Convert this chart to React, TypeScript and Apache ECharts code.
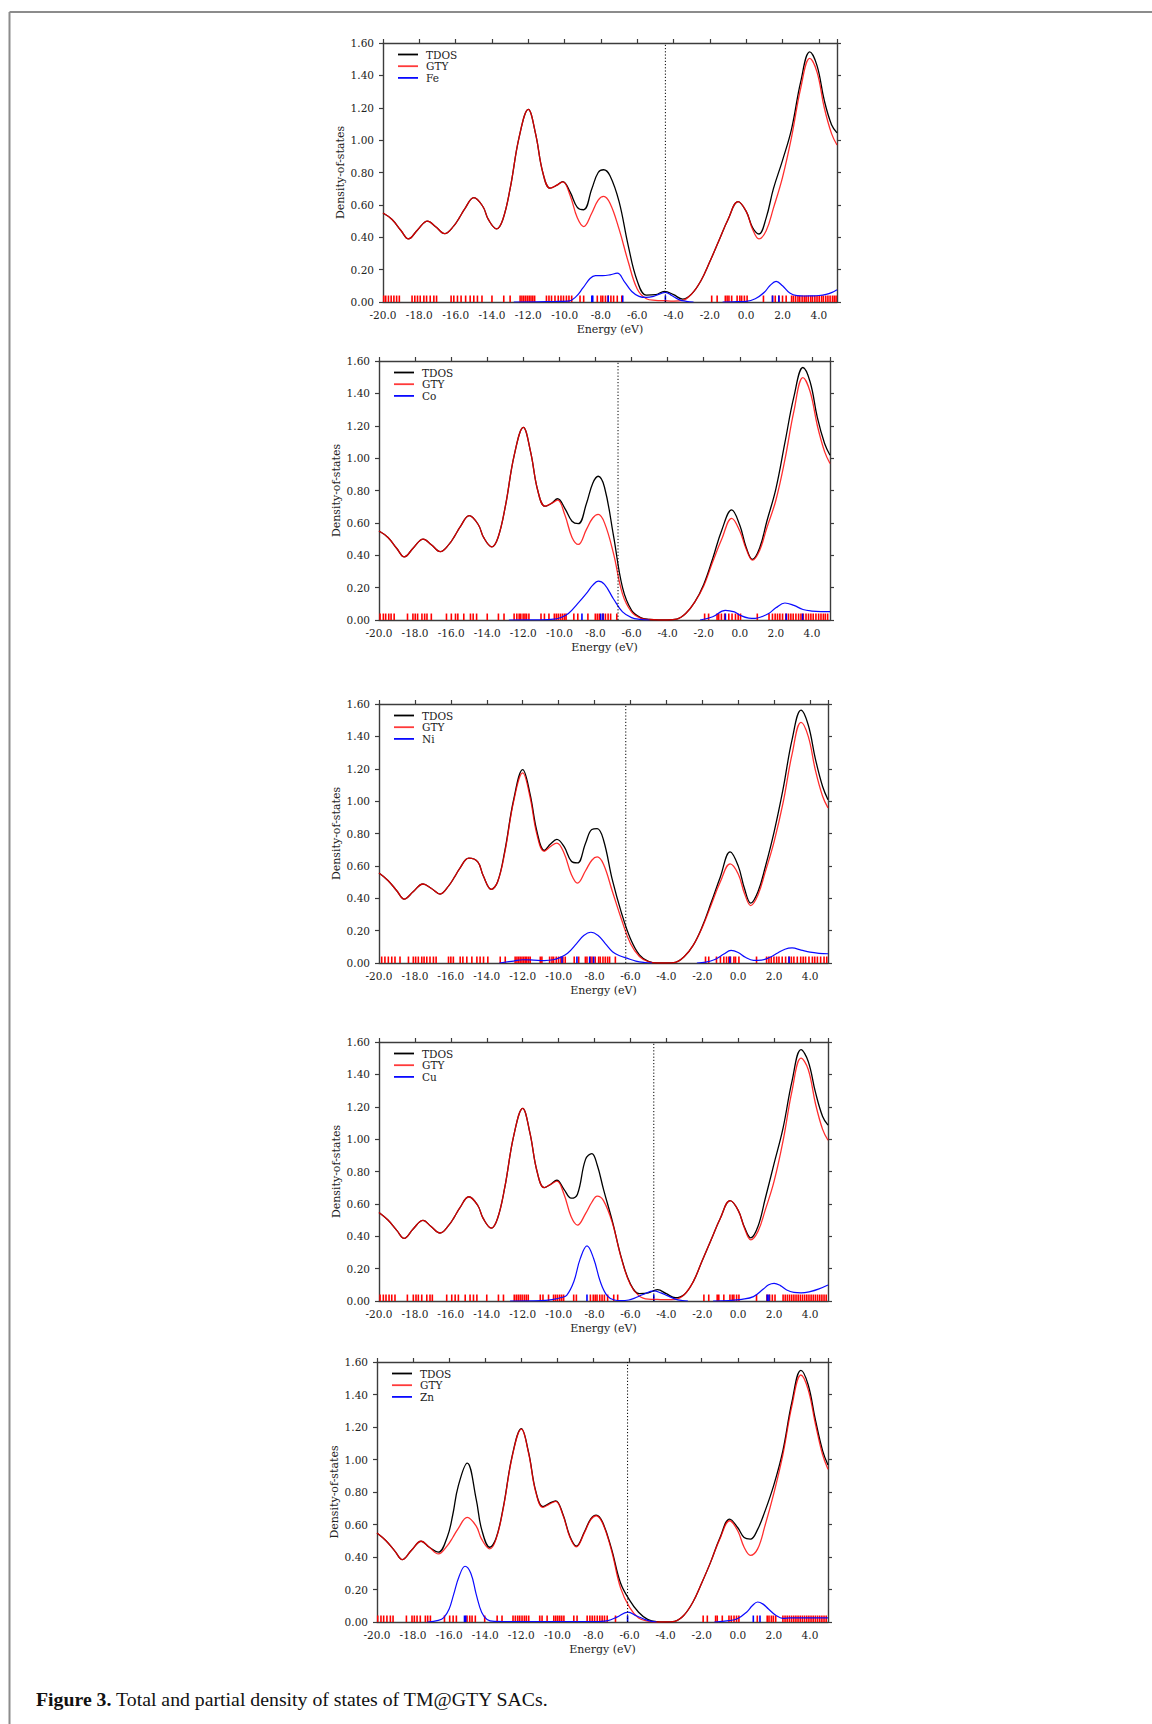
import { useEffect, useRef } from 'react';
import * as echarts from 'echarts';

// ---------------- data ----------------
const energyGrid = [-20, -19.5, -19, -18.6, -18.1, -17.55, -17.1, -16.6, -16.1, -15.8, -15.5, -15, -14.5, -14.2, -13.75, -13.4, -13, -12.5, -12, -11.6, -11.2, -10.8, -10.45, -10.1, -9.7, -9.3, -8.95, -8.5, -8.15, -7.85, -7.5, -7, -6.5, -6, -5.5, -5, -4.5, -4, -3.5, -3, -2.5, -2, -1.5, -1, -0.45, 0, 0.35, 0.7, 1.1, 1.5, 2, 2.5, 3, 3.5, 3.9, 4.3, 4.7, 5];

const metals = ['Fe', 'Co', 'Ni', 'Cu', 'Zn'];
const fermiLevels = [-4.45, -6.75, -6.26, -4.7, -6.11];

// Fe
const gtyFe = [0.55, 0.51, 0.44, 0.39, 0.445, 0.5, 0.465, 0.422, 0.47, 0.52, 0.575, 0.645, 0.59, 0.51, 0.452, 0.51, 0.7, 1.02, 1.19, 1.04, 0.8, 0.703, 0.72, 0.742, 0.66, 0.52, 0.466, 0.55, 0.63, 0.653, 0.61, 0.45, 0.25, 0.08, 0.02, 0.01, 0.008, 0.006, 0.01, 0.05, 0.13, 0.25, 0.38, 0.51, 0.62, 0.56, 0.45, 0.39, 0.44, 0.58, 0.77, 1.02, 1.32, 1.505, 1.42, 1.2, 1.04, 0.97];
const tdosFe = [0.55, 0.51, 0.44, 0.39, 0.445, 0.5, 0.465, 0.422, 0.47, 0.52, 0.575, 0.645, 0.59, 0.51, 0.452, 0.51, 0.7, 1.02, 1.19, 1.04, 0.8, 0.703, 0.72, 0.744, 0.68, 0.585, 0.57, 0.7, 0.8, 0.817, 0.78, 0.62, 0.35, 0.13, 0.042, 0.045, 0.066, 0.045, 0.018, 0.05, 0.13, 0.25, 0.38, 0.51, 0.62, 0.56, 0.46, 0.42, 0.52, 0.7, 0.875, 1.07, 1.36, 1.545, 1.46, 1.245, 1.095, 1.045];
const pdosFeE = [-12.8, -11, -10.3, -9.8, -9.4, -9.0, -8.6, -8.3, -7.9, -7.5, -7.1, -6.7, -6.3, -5.9, -5.5, -5.1, -4.75, -4.45, -4.1, -3.7, -3.3, -2.9, -2.0, -1.3, -0.5, 0, 0.5, 1.0, 1.3, 1.65, 2.0, 2.4, 2.8, 3.2, 3.6, 4.0, 4.4, 4.7, 5.0];
const pdosFe = [0, 0.002, 0.004, 0.005, 0.03, 0.085, 0.145, 0.163, 0.163, 0.168, 0.178, 0.125, 0.065, 0.035, 0.028, 0.035, 0.05, 0.06, 0.04, 0.015, 0.004, 0, null, 0, 0.002, 0.004, 0.02, 0.06, 0.1, 0.127, 0.1, 0.055, 0.039, 0.037, 0.038, 0.04, 0.047, 0.058, 0.076];
const levelsGtyFe = [-19.96, -19.85, -19.7, -19.55, -19.4, -19.25, -19.1, -18.4, -18.25, -18.1, -17.95, -17.75, -17.6, -17.4, -17.2, -17.05, -16.25, -16.1, -15.9, -15.7, -15.45, -15.2, -15.0, -14.8, -14.55, -14.0, -13.35, -13.0, -12.45, -12.35, -12.25, -12.15, -12.05, -11.95, -11.85, -11.75, -11.65, -11.0, -10.86, -10.72, -10.53, -10.35, -10.2, -10.06, -9.9, -9.76, -9.61, -9.15, -8.95, -8.2, -8.0, -7.9, -7.75, -7.6, -7.45, -7.3, -7.1, -6.85, -1.9, -1.6, -1.15, -1.05, -0.95, -0.8, -0.5, -0.35, -0.25, -0.1, 0.05, 0.95, 1.45, 1.6, 1.8, 2.0, 2.2, 2.5, 2.6, 2.72, 2.85, 2.95, 3.08, 3.2, 3.3, 3.42, 3.55, 3.65, 3.78, 3.9, 4.02, 4.15, 4.25, 4.38, 4.5, 4.62, 4.75, 4.85, 4.95];
const levelsTmFe = [-8.5, -8.45, -7.6, -6.8, -4.45, 1.45, 1.8];

// Co
const gtyCo = [0.55, 0.51, 0.44, 0.39, 0.445, 0.5, 0.465, 0.422, 0.47, 0.52, 0.575, 0.645, 0.59, 0.51, 0.452, 0.51, 0.7, 1.02, 1.19, 1.04, 0.8, 0.703, 0.72, 0.74, 0.65, 0.51, 0.467, 0.56, 0.63, 0.652, 0.6, 0.41, 0.16, 0.05, 0.012, 0.003, 0, 0, 0.005, 0.04, 0.11, 0.21, 0.36, 0.5, 0.628, 0.55, 0.44, 0.37, 0.43, 0.57, 0.74, 0.99, 1.29, 1.497, 1.41, 1.2, 1.04, 0.967];
const tdosCo = [0.55, 0.51, 0.44, 0.39, 0.445, 0.5, 0.465, 0.422, 0.47, 0.52, 0.575, 0.645, 0.59, 0.51, 0.452, 0.51, 0.7, 1.02, 1.19, 1.04, 0.8, 0.703, 0.72, 0.749, 0.69, 0.61, 0.595, 0.72, 0.845, 0.888, 0.82, 0.52, 0.2, 0.06, 0.015, 0.003, 0, 0, 0.005, 0.04, 0.11, 0.22, 0.38, 0.555, 0.68, 0.585, 0.45, 0.375, 0.445, 0.61, 0.81, 1.095, 1.38, 1.56, 1.47, 1.25, 1.09, 1.018];
const pdosCoE = [-12.8, -11, -10.3, -10.0, -9.5, -9.0, -8.5, -8.15, -7.85, -7.5, -7.0, -6.5, -6.0, -5.5, -5.0, -3.5, -2.2, -1.5, -0.8, -0.3, 0, 0.5, 0.85, 1.2, 1.6, 2.0, 2.5, 3.0, 3.5, 4.0, 4.5, 5.0];
const pdosCo = [0, 0.001, 0.005, 0.012, 0.04, 0.1, 0.165, 0.215, 0.24, 0.22, 0.13, 0.05, 0.015, 0.004, 0, null, 0, 0.02, 0.06, 0.05, 0.03, 0.012, 0.01, 0.02, 0.04, 0.075, 0.105, 0.09, 0.065, 0.055, 0.052, 0.052];
const levelsGtyCo = [-19.94, -19.76, -19.63, -19.46, -19.33, -19.16, -18.42, -18.12, -17.99, -17.86, -17.62, -17.47, -17.34, -17.1, -16.26, -15.99, -15.76, -15.63, -15.3, -14.93, -14.78, -14.59, -14.0, -13.38, -13.07, -12.51, -12.36, -12.23, -12.14, -12.01, -11.91, -11.82, -11.69, -11.02, -10.83, -10.58, -10.28, -10.17, -10.06, -9.94, -9.83, -9.72, -9.63, -9.2, -8.98, -8.42, -8.01, -7.9, -7.79, -7.59, -7.45, -7.3, -7.16, -6.82, -1.95, -1.73, -1.26, -1.17, -1.02, -0.84, -0.61, -0.43, -0.24, -0.09, 0.04, 0.97, 1.62, 1.81, 1.96, 2.09, 2.22, 2.37, 2.55, 2.7, 2.83, 2.96, 3.11, 3.26, 3.39, 3.52, 3.67, 3.81, 3.94, 4.07, 4.22, 4.37, 4.5, 4.63, 4.74, 4.87];
const levelsTmCo = [-8.75, -7.71, -7.58, -0.8, 2.58, 3.48];

// Ni
const gtyNi = [0.556, 0.51, 0.445, 0.395, 0.44, 0.488, 0.462, 0.426, 0.48, 0.53, 0.585, 0.648, 0.625, 0.54, 0.455, 0.5, 0.68, 1.0, 1.174, 1.03, 0.79, 0.69, 0.72, 0.741, 0.68, 0.55, 0.494, 0.57, 0.635, 0.655, 0.61, 0.44, 0.27, 0.12, 0.04, 0.008, 0, 0, 0.004, 0.04, 0.11, 0.22, 0.36, 0.5, 0.612, 0.55, 0.43, 0.355, 0.42, 0.56, 0.75, 0.99, 1.29, 1.487, 1.4, 1.19, 1.03, 0.958];
const tdosNi = [0.556, 0.51, 0.445, 0.395, 0.44, 0.488, 0.462, 0.426, 0.48, 0.53, 0.585, 0.648, 0.625, 0.54, 0.455, 0.5, 0.69, 1.01, 1.194, 1.05, 0.81, 0.696, 0.735, 0.764, 0.72, 0.63, 0.618, 0.74, 0.825, 0.83, 0.76, 0.51, 0.31, 0.15, 0.05, 0.01, 0, 0, 0.004, 0.04, 0.11, 0.225, 0.375, 0.53, 0.686, 0.6, 0.46, 0.37, 0.44, 0.59, 0.81, 1.075, 1.38, 1.562, 1.47, 1.26, 1.09, 1.009];
const pdosNiE = [-13.3, -12.5, -12.0, -11.4, -10.8, -10.3, -9.9, -9.5, -9.0, -8.6, -8.2, -7.8, -7.4, -7.0, -6.6, -6.2, -5.7, -5.2, -4.8, -3.5, -2.3, -1.8, -1.3, -0.8, -0.4, 0.0, 0.4, 0.85, 1.3, 1.7, 2.2, 2.6, 3.0, 3.5, 4.0, 4.5, 5.0];
const pdosNi = [0, 0.012, 0.02, 0.018, 0.015, 0.02, 0.035, 0.06, 0.12, 0.17, 0.19, 0.17, 0.12, 0.07, 0.045, 0.03, 0.012, 0.003, 0, null, 0, 0.005, 0.022, 0.055, 0.078, 0.065, 0.035, 0.016, 0.018, 0.032, 0.062, 0.085, 0.093, 0.08, 0.067, 0.06, 0.057];
const levelsGtyNi = [-19.85, -19.67, -19.48, -19.29, -19.11, -18.83, -18.36, -18.09, -17.96, -17.81, -17.62, -17.49, -17.34, -17.16, -16.97, -16.82, -16.13, -16.0, -15.86, -15.48, -15.33, -15.11, -14.83, -14.55, -14.37, -14.18, -13.94, -13.25, -12.97, -12.42, -12.32, -12.23, -12.14, -12.04, -11.95, -11.86, -11.77, -11.67, -11.58, -11.02, -10.93, -10.5, -10.37, -10.28, -10.13, -10.0, -9.87, -9.76, -9.63, -9.13, -8.88, -8.51, -8.42, -8.23, -8.14, -7.96, -7.77, -7.68, -7.53, -7.4, -7.27, -7.16, -6.84, -1.82, -1.64, -1.21, -0.99, -0.8, -0.65, -0.52, -0.43, -0.24, -0.15, 0.04, 1.02, 1.58, 1.71, 1.84, 1.99, 2.14, 2.27, 2.45, 2.64, 2.83, 2.96, 3.1, 3.29, 3.48, 3.62, 3.75, 3.94, 4.13, 4.26, 4.41, 4.59, 4.78, 4.93];
const levelsTmNi = [-9.81, -8.98, -8.27, -8.05, -0.46, 2.83];

// Cu
const gtyCu = [0.547, 0.5, 0.435, 0.387, 0.445, 0.498, 0.46, 0.42, 0.47, 0.52, 0.575, 0.644, 0.59, 0.51, 0.45, 0.51, 0.7, 1.02, 1.19, 1.04, 0.8, 0.7, 0.72, 0.74, 0.66, 0.52, 0.469, 0.54, 0.61, 0.648, 0.62, 0.48, 0.26, 0.1, 0.03, 0.012, 0.01, 0.008, 0.01, 0.04, 0.12, 0.25, 0.38, 0.51, 0.62, 0.56, 0.45, 0.378, 0.43, 0.56, 0.74, 0.99, 1.3, 1.5, 1.43, 1.22, 1.06, 0.993];
const tdosCu = [0.547, 0.5, 0.435, 0.387, 0.445, 0.498, 0.46, 0.42, 0.47, 0.52, 0.575, 0.644, 0.59, 0.51, 0.45, 0.51, 0.7, 1.02, 1.19, 1.04, 0.8, 0.7, 0.72, 0.746, 0.69, 0.635, 0.66, 0.875, 0.91, 0.84, 0.69, 0.49, 0.265, 0.105, 0.045, 0.05, 0.07, 0.045, 0.02, 0.04, 0.12, 0.25, 0.38, 0.51, 0.62, 0.56, 0.455, 0.39, 0.46, 0.63, 0.85, 1.07, 1.36, 1.553, 1.48, 1.29, 1.14, 1.086];
const pdosCuE = [-12.7, -11, -10.3, -9.9, -9.55, -9.15, -8.8, -8.42, -8.05, -7.68, -7.3, -6.9, -6.5, -6.1, -5.8, -5.3, -4.7, -4.3, -3.95, -3.5, -3.1, -2.8, -2.0, -1.4, -0.5, 0.2, 0.85, 1.4, 1.7, 2.0, 2.35, 2.7, 3.1, 3.5, 4.0, 4.5, 5.0];
const pdosCu = [0, 0.002, 0.01, 0.02, 0.035, 0.12, 0.26, 0.341, 0.263, 0.12, 0.033, 0.006, 0.002, 0.006, 0.016, 0.04, 0.062, 0.05, 0.033, 0.012, 0.003, 0, null, 0, 0.003, 0.01, 0.027, 0.074, 0.1, 0.109, 0.095, 0.068, 0.053, 0.05, 0.058, 0.075, 0.099];
const levelsGtyCu = [-19.94, -19.76, -19.61, -19.44, -19.29, -19.11, -18.42, -18.09, -17.94, -17.81, -17.62, -17.34, -17.16, -17.03, -16.23, -15.95, -15.76, -15.58, -15.2, -14.93, -14.74, -14.55, -14.0, -13.35, -13.07, -12.47, -12.36, -12.25, -12.14, -12.03, -11.91, -11.8, -11.69, -11.02, -10.87, -10.56, -10.28, -10.17, -10.06, -9.94, -9.83, -9.72, -9.16, -9.01, -8.23, -8.07, -7.96, -7.86, -7.71, -7.58, -7.45, -7.27, -6.93, -6.71, -1.91, -1.64, -1.17, -1.08, -0.8, -0.46, -0.33, -0.24, -0.09, 0.04, 1.02, 1.6, 1.75, 1.9, 2.05, 2.5, 2.62, 2.74, 2.86, 2.98, 3.1, 3.22, 3.34, 3.46, 3.58, 3.7, 3.82, 3.94, 4.06, 4.18, 4.3, 4.42, 4.54, 4.66, 4.78, 4.9];
const levelsTmCu = [-8.42, -4.7, 1.62, 1.71];

// Zn
const gtyZn = [0.548, 0.5, 0.435, 0.384, 0.44, 0.497, 0.46, 0.419, 0.47, 0.52, 0.575, 0.644, 0.59, 0.51, 0.45, 0.51, 0.7, 1.02, 1.187, 1.04, 0.8, 0.705, 0.725, 0.742, 0.66, 0.52, 0.462, 0.55, 0.63, 0.654, 0.61, 0.44, 0.21, 0.09, 0.025, 0.006, 0, 0, 0.004, 0.04, 0.12, 0.24, 0.37, 0.51, 0.623, 0.56, 0.46, 0.41, 0.45, 0.59, 0.793, 1.03, 1.33, 1.52, 1.43, 1.22, 1.03, 0.94];
const tdosZn = [0.548, 0.5, 0.435, 0.384, 0.44, 0.497, 0.46, 0.43, 0.525, 0.66, 0.835, 0.978, 0.755, 0.57, 0.46, 0.515, 0.705, 1.025, 1.19, 1.045, 0.805, 0.71, 0.73, 0.746, 0.665, 0.525, 0.467, 0.555, 0.635, 0.658, 0.615, 0.45, 0.24, 0.135, 0.06, 0.016, 0.002, 0, 0.004, 0.04, 0.12, 0.24, 0.37, 0.515, 0.633, 0.58, 0.52, 0.51, 0.57, 0.68, 0.844, 1.055, 1.355, 1.549, 1.46, 1.245, 1.055, 0.966];
const pdosZnE = [-17.2, -16.6, -16.3, -16.0, -15.75, -15.45, -15.12, -14.8, -14.5, -14.2, -13.9, -13.5, -13.0, -10.0, -7.6, -7.2, -6.7, -6.1, -5.6, -5.0, -4.5, -3.0, -1.3, -0.5, 0.0, 0.5, 0.8, 1.1, 1.4, 1.7, 2.1, 2.5, 2.9, 3.5, 4.0, 4.5, 5.0];
const pdosZn = [0, 0.01, 0.027, 0.08, 0.17, 0.28, 0.343, 0.3, 0.17, 0.06, 0.016, 0.004, 0.003, 0.003, 0.004, 0.008, 0.03, 0.061, 0.037, 0.01, 0, null, 0, 0.008, 0.022, 0.062, 0.1, 0.123, 0.11, 0.08, 0.042, 0.022, 0.025, 0.026, 0.026, 0.026, 0.025];
const levelsGtyZn = [-19.96, -19.78, -19.63, -19.45, -19.26, -19.11, -18.37, -18.06, -17.93, -17.78, -17.6, -17.32, -17.19, -17.04, -16.26, -15.97, -15.78, -15.6, -15.01, -14.86, -14.73, -14.55, -14.03, -13.34, -13.07, -12.46, -12.33, -12.2, -12.09, -11.96, -11.83, -11.72, -11.59, -10.98, -10.85, -10.57, -10.2, -10.09, -9.98, -9.87, -9.76, -9.64, -9.09, -8.91, -8.35, -8.2, -8.07, -7.94, -7.79, -7.65, -7.52, -7.39, -7.24, -6.78, -1.92, -1.69, -1.23, -1.14, -0.86, -0.49, -0.36, -0.21, -0.07, 0.06, 1.08, 1.63, 1.73, 1.86, 1.97, 2.1, 2.5, 2.62, 2.74, 2.86, 2.98, 3.1, 3.22, 3.34, 3.46, 3.58, 3.7, 3.82, 3.94, 4.06, 4.18, 4.3, 4.42, 4.54, 4.66, 4.78, 4.9];
const levelsTmZn = [-15.15, -15.08, -6.11, 0.86, 1.23];

const panels = [
  { tm: metals[0], tdos: tdosFe, gty: gtyFe, pE: pdosFeE, p: pdosFe, lv: levelsGtyFe, lvTm: levelsTmFe, ef: fermiLevels[0] },
  { tm: metals[1], tdos: tdosCo, gty: gtyCo, pE: pdosCoE, p: pdosCo, lv: levelsGtyCo, lvTm: levelsTmCo, ef: fermiLevels[1] },
  { tm: metals[2], tdos: tdosNi, gty: gtyNi, pE: pdosNiE, p: pdosNi, lv: levelsGtyNi, lvTm: levelsTmNi, ef: fermiLevels[2] },
  { tm: metals[3], tdos: tdosCu, gty: gtyCu, pE: pdosCuE, p: pdosCu, lv: levelsGtyCu, lvTm: levelsTmCu, ef: fermiLevels[3] },
  { tm: metals[4], tdos: tdosZn, gty: gtyZn, pE: pdosZnE, p: pdosZn, lv: levelsGtyZn, lvTm: levelsTmZn, ef: fermiLevels[4] },
];

// ---------------- layout / style ----------------
const boxes = [
  { left: 383, top: 43, width: 454, height: 259 },
  { left: 379, top: 361, width: 451, height: 259 },
  { left: 379, top: 704, width: 449, height: 259 },
  { left: 379, top: 1042, width: 449, height: 259 },
  { left: 377, top: 1362, width: 451, height: 260 },
];
const FONT = 'DejaVu Serif';
const AXIS_COLOR = '#3c3c3c';
const TEXT_COLOR = '#222';
const RUG_TOP = 0.04;
const Y_MAX = 1.6;

function rugSeries(levels: number[], color: string, idx: number, name: string) {
  return {
    type: 'custom',
    name,
    coordinateSystem: 'cartesian2d',
    xAxisIndex: idx,
    yAxisIndex: idx,
    silent: true,
    data: levels.map((e) => [e, 0]),
    encode: { x: 0, y: 1 },
    renderItem: (_params: any, api: any) => {
      const e = api.value(0);
      const p0 = api.coord([e, 0]);
      const p1 = api.coord([e, RUG_TOP]);
      return {
        type: 'line',
        shape: { x1: p0[0], y1: p0[1], x2: p1[0], y2: p1[1] },
        style: { stroke: color, lineWidth: 1.6 },
      };
    },
  };
}

function buildOption() {
  const grid: any[] = [];
  const xAxis: any[] = [];
  const yAxis: any[] = [];
  const series: any[] = [];
  const legend: any[] = [];
  const axisLine = { show: true, onZero: false, lineStyle: { color: AXIS_COLOR, width: 1.4 } };

  panels.forEach((p, i) => {
    const b = boxes[i];
    grid.push({ left: b.left, top: b.top, width: b.width, height: b.height, containLabel: false });
    xAxis.push(
      {
        type: 'value', gridIndex: i, min: -20, max: 5, interval: 2, position: 'bottom',
        axisLine, axisTick: { show: false }, splitLine: { show: false },
        axisLabel: {
          formatter: (v: number) => v.toFixed(1), showMaxLabel: false,
          fontFamily: FONT, fontSize: 10.5, color: TEXT_COLOR, margin: 7,
        },
        name: 'Energy (eV)', nameLocation: 'middle', nameGap: 22,
        nameTextStyle: { fontFamily: FONT, fontSize: 11, color: TEXT_COLOR },
      },
      {
        type: 'value', gridIndex: i, min: -20, max: 5, interval: 2, position: 'top',
        axisLine, axisTick: { show: true, length: 4, lineStyle: { color: AXIS_COLOR, width: 1.2 } },
        axisLabel: { show: false }, splitLine: { show: false },
      }
    );
    yAxis.push(
      {
        type: 'value', gridIndex: i, min: 0, max: Y_MAX, interval: 0.2, position: 'left',
        axisLine, axisTick: { show: true, length: 4, lineStyle: { color: AXIS_COLOR, width: 1.2 } },
        splitLine: { show: false },
        axisLabel: { formatter: (v: number) => v.toFixed(2), fontFamily: FONT, fontSize: 10.5, color: TEXT_COLOR, margin: 9 },
        name: 'Density-of-states', nameLocation: 'middle', nameGap: 37, nameRotate: 90,
        nameTextStyle: { fontFamily: FONT, fontSize: 11, color: TEXT_COLOR },
      },
      {
        type: 'value', gridIndex: i, min: 0, max: Y_MAX, interval: 0.2, position: 'right',
        axisLine, axisTick: { show: true, length: 4, lineStyle: { color: AXIS_COLOR, width: 1.2 } },
        axisLabel: { show: false }, splitLine: { show: false },
      }
    );
    const xi = 2 * i;
    series.push(rugSeries(p.lv, '#ff0000', xi, 'levels-gty-' + i));
    series.push(rugSeries(p.lvTm, '#0000ff', xi, 'levels-tm-' + i));
    series.push({
      type: 'line', name: 'TDOS', xAxisIndex: xi, yAxisIndex: xi,
      data: energyGrid.map((e, k) => [e, p.tdos[k]]),
      smooth: 0.4, symbol: 'none', showSymbol: false,
      lineStyle: { color: '#000000', width: 1.3 }, itemStyle: { color: '#000000' },
    });
    series.push({
      type: 'line', name: 'GTY', xAxisIndex: xi, yAxisIndex: xi,
      data: energyGrid.map((e, k) => [e, p.gty[k]]),
      smooth: 0.4, symbol: 'none', showSymbol: false,
      lineStyle: { color: 'rgba(255,0,0,0.82)', width: 1.3 }, itemStyle: { color: '#ff3a3a' },
    });
    series.push({
      type: 'line', name: p.tm, xAxisIndex: xi, yAxisIndex: xi,
      data: p.pE.map((e, k) => [e, p.p[k] === null ? '-' : p.p[k]]),
      smooth: 0.4, symbol: 'none', showSymbol: false, connectNulls: false,
      lineStyle: { color: '#0a0aff', width: 1.2 }, itemStyle: { color: '#0a0aff' },
    });
    series.push({
      type: 'line', name: 'EF-' + i, xAxisIndex: xi, yAxisIndex: xi,
      data: [[p.ef, 0], [p.ef, Y_MAX]], symbol: 'none', silent: true,
      lineStyle: { color: '#000', width: 1, type: [1.2, 2] },
    });
    legend.push({
      left: b.left + 15, top: b.top + 6, orient: 'vertical', padding: 0,
      itemGap: 0.7, itemWidth: 20, itemHeight: 1.8, icon: 'rect', selectedMode: false,
      data: ['TDOS', 'GTY', p.tm],
      textStyle: { fontFamily: FONT, fontSize: 10.5, color: TEXT_COLOR, lineHeight: 11, padding: [0, 0, 0, 3] },
    });
  });

  return {
    animation: false,
    backgroundColor: '#ffffff',
    grid, xAxis, yAxis, series, legend,
    graphic: [
      { type: 'line', shape: { x1: 9.5, y1: 12, x2: 1152, y2: 12 }, style: { stroke: '#8c8c8c', lineWidth: 2 } },
      { type: 'line', shape: { x1: 9.5, y1: 12, x2: 9.5, y2: 1724 }, style: { stroke: '#8c8c8c', lineWidth: 2 } },
      {
        type: 'text', x: 36, y: 1699,
        style: {
          text: '{b|Figure 3.} Total and partial density of states of TM@GTY SACs.',
          fontFamily: 'Liberation Serif', fontSize: 19.8, fill: '#111', verticalAlign: 'middle',
          rich: { b: { fontFamily: 'Liberation Serif', fontSize: 19.8, fontWeight: 'bold', fill: '#111' } },
        },
      },
    ],
  };
}

export default function App() {
  const ref = useRef<HTMLDivElement>(null);
  useEffect(() => {
    if (!ref.current) return;
    const chart = echarts.init(ref.current, null, { renderer: 'svg' });
    chart.setOption(buildOption() as any);
    return () => chart.dispose();
  }, []);
  return (
    <div
      ref={ref}
      style={{ position: 'absolute', left: 0, top: 0, width: 1152, height: 1724, background: '#fff' }}
    />
  );
}
